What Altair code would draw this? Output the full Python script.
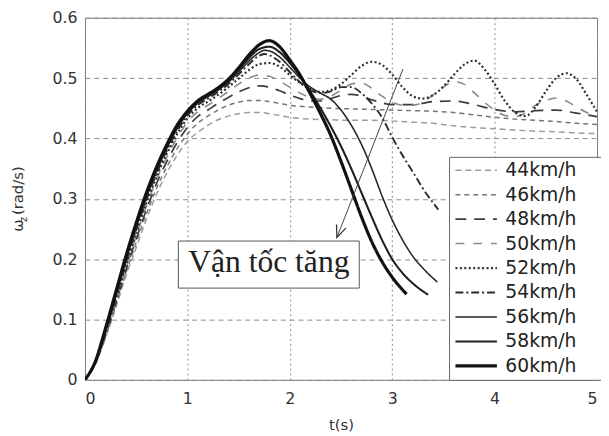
import altair as alt
import pandas as pd

# ---------------- data ----------------
series = ["44km/h", "46km/h", "48km/h", "50km/h", "52km/h",
          "54km/h", "56km/h", "58km/h", "60km/h"]

t_rise = [0.0, 0.1, 0.2, 0.3, 0.4, 0.5, 0.6, 0.7, 0.8, 0.9, 1.0]

rise_44 = [0, 0.025, 0.069, 0.119, 0.172, 0.219, 0.266, 0.308, 0.343, 0.372, 0.395]
rise_46 = [0, 0.026, 0.071, 0.123, 0.177, 0.227, 0.275, 0.318, 0.353, 0.383, 0.407]
rise_48 = [0, 0.027, 0.073, 0.127, 0.182, 0.233, 0.282, 0.326, 0.362, 0.393, 0.418]
rise_50 = [0, 0.027, 0.075, 0.130, 0.186, 0.238, 0.288, 0.332, 0.369, 0.401, 0.427]
rise_52 = [0, 0.028, 0.077, 0.133, 0.190, 0.243, 0.293, 0.337, 0.375, 0.407, 0.433]
rise_54 = [0, 0.029, 0.079, 0.136, 0.194, 0.248, 0.298, 0.342, 0.380, 0.412, 0.438]
rise_56 = [0, 0.029, 0.081, 0.139, 0.198, 0.252, 0.302, 0.346, 0.384, 0.416, 0.441]
rise_58 = [0, 0.030, 0.083, 0.142, 0.202, 0.256, 0.306, 0.350, 0.387, 0.419, 0.443]
rise_60 = [0, 0.030, 0.085, 0.145, 0.205, 0.260, 0.310, 0.353, 0.390, 0.422, 0.445]

t_tail_44 = [1.1, 1.2, 1.3, 1.4, 1.5, 1.6, 1.7, 1.8, 1.9, 2.0,
             2.2, 2.4, 2.6, 2.8, 3.0, 3.2, 3.4, 3.6, 3.8, 4.0, 4.2, 4.4, 4.6, 4.8, 5.0]
w_tail_44 = [0.410, 0.422, 0.431, 0.437, 0.441, 0.443, 0.443, 0.441, 0.438, 0.435,
             0.432, 0.431, 0.430, 0.430, 0.429, 0.427, 0.425, 0.421, 0.418, 0.416,
             0.414, 0.412, 0.411, 0.409, 0.408]

t_tail_46 = [1.1, 1.2, 1.3, 1.4, 1.5, 1.6, 1.7, 1.8, 1.9, 2.0,
             2.2, 2.4, 2.6, 2.8, 3.0, 3.2, 3.4, 3.6, 3.8, 4.0, 4.2, 4.4, 4.6, 4.8, 5.0]
w_tail_46 = [0.425, 0.437, 0.447, 0.455, 0.460, 0.463, 0.463, 0.461, 0.458, 0.455,
             0.452, 0.450, 0.449, 0.448, 0.447, 0.446, 0.445, 0.443, 0.439, 0.435,
             0.432, 0.430, 0.428, 0.425, 0.423]

t_tail_48 = [1.1, 1.2, 1.3, 1.4, 1.5, 1.6, 1.7, 1.8, 1.9, 2.0,
             2.1, 2.2, 2.3, 2.4, 2.5, 2.6, 2.7, 2.8, 2.9, 3.0,
             3.2, 3.4, 3.6, 3.8, 4.0, 4.2, 4.4, 4.6, 4.8, 5.0]
w_tail_48 = [0.436, 0.447, 0.458, 0.468, 0.477, 0.484, 0.487, 0.485, 0.479, 0.472,
             0.466, 0.462, 0.462, 0.466, 0.471, 0.473, 0.470, 0.464, 0.459, 0.456,
             0.456, 0.461, 0.462, 0.456, 0.448, 0.444, 0.446, 0.447, 0.442, 0.436]

t_tail_50 = [1.1, 1.2, 1.3, 1.4, 1.5, 1.6, 1.7, 1.8, 1.9, 2.0,
             2.1, 2.2, 2.3, 2.4, 2.5, 2.6, 2.7, 2.8, 2.9, 3.0,
             3.1, 3.2, 3.3, 3.4, 3.5, 3.6, 3.7, 3.8, 3.9, 4.0,
             4.1, 4.2, 4.3, 4.4, 4.5, 4.6, 4.7, 4.8, 4.9, 5.0]
w_tail_50 = [0.444, 0.455, 0.466, 0.478, 0.490, 0.500, 0.505, 0.503, 0.495, 0.485,
             0.475, 0.468, 0.465, 0.470, 0.480, 0.490, 0.492, 0.483, 0.470, 0.460,
             0.455, 0.455, 0.460, 0.472, 0.485, 0.494, 0.490, 0.476, 0.460, 0.447,
             0.438, 0.436, 0.442, 0.455, 0.463, 0.467, 0.462, 0.452, 0.443, 0.438]

t_tail_52 = [1.1, 1.2, 1.3, 1.4, 1.5, 1.6, 1.7, 1.8, 1.9, 2.0,
             2.1, 2.2, 2.3, 2.4, 2.5, 2.6, 2.7, 2.8, 2.9, 3.0,
             3.1, 3.2, 3.3, 3.4, 3.5, 3.6, 3.7, 3.8, 3.9, 4.0,
             4.1, 4.2, 4.3, 4.4, 4.5, 4.6, 4.7, 4.8, 4.9, 5.0]
w_tail_52 = [0.450, 0.461, 0.472, 0.485, 0.499, 0.513, 0.523, 0.525, 0.519, 0.505,
             0.492, 0.482, 0.477, 0.480, 0.490, 0.505, 0.520, 0.527, 0.522, 0.506,
             0.485, 0.470, 0.466, 0.472, 0.486, 0.505, 0.522, 0.529, 0.515, 0.490,
             0.462, 0.443, 0.437, 0.452, 0.478, 0.500, 0.508, 0.498, 0.472, 0.444]

t_tail_54 = [1.1, 1.2, 1.3, 1.4, 1.5, 1.6, 1.7, 1.75, 1.8, 1.9, 2.0,
             2.1, 2.2, 2.3, 2.4, 2.5, 2.6, 2.7, 2.8, 2.9, 3.0,
             3.1, 3.2, 3.3, 3.45]
w_tail_54 = [0.455, 0.466, 0.477, 0.490, 0.506, 0.523, 0.537, 0.540, 0.538, 0.527, 0.510,
             0.493, 0.480, 0.475, 0.478, 0.485, 0.485, 0.475, 0.458, 0.435, 0.402,
             0.372, 0.345, 0.317, 0.282]

t_tail_56 = [1.1, 1.2, 1.3, 1.4, 1.5, 1.6, 1.7, 1.75, 1.8, 1.9, 2.0,
             2.1, 2.2, 2.3, 2.4, 2.5, 2.6, 2.7, 2.8, 2.9, 3.0,
             3.1, 3.2, 3.3, 3.44]
w_tail_56 = [0.458, 0.469, 0.480, 0.493, 0.510, 0.528, 0.542, 0.546, 0.545, 0.535, 0.518,
             0.500, 0.485, 0.475, 0.465, 0.447, 0.422, 0.390, 0.350, 0.305, 0.265,
             0.232, 0.205, 0.185, 0.162]

t_tail_58 = [1.1, 1.2, 1.3, 1.4, 1.5, 1.6, 1.7, 1.8, 1.9, 2.0,
             2.1, 2.2, 2.3, 2.4, 2.5, 2.6, 2.7, 2.8, 2.9, 3.0,
             3.1, 3.2, 3.35]
w_tail_58 = [0.460, 0.471, 0.482, 0.496, 0.514, 0.533, 0.548, 0.552, 0.543, 0.525,
             0.503, 0.478, 0.450, 0.420, 0.387, 0.350, 0.310, 0.270, 0.232, 0.200,
             0.177, 0.160, 0.141]

t_tail_60 = [1.1, 1.2, 1.3, 1.4, 1.5, 1.6, 1.7, 1.8, 1.9, 2.0,
             2.1, 2.2, 2.3, 2.4, 2.5, 2.6, 2.7, 2.8, 2.9, 3.0, 3.14]
w_tail_60 = [0.462, 0.473, 0.484, 0.498, 0.517, 0.538, 0.555, 0.562, 0.552, 0.530,
             0.505, 0.474, 0.441, 0.405, 0.362, 0.316, 0.270, 0.229, 0.196, 0.170, 0.142]

x_ticks = [0, 1, 2, 3, 4, 5]
y_ticks = [0, 0.1, 0.2, 0.3, 0.4, 0.5, 0.6]

annotation_text = "Vận tốc tăng"

# ---------------- styles ----------------
colors = ["#9c9c9c", "#767676", "#3c3c3c", "#8a8a8a", "#2e2e2e",
          "#2a2a2a", "#262626", "#1e1e1e", "#111111"]
dashes = [[6, 4], [5, 4], [11, 8], [9, 9], [2, 2.5],
          [8, 3, 2, 3], [1, 0], [1, 0], [1, 0]]
widths = [1.5, 1.5, 1.7, 1.6, 2.2, 1.9, 1.6, 2.1, 3.2]

# ---------------- build table ----------------
rises = [rise_44, rise_46, rise_48, rise_50, rise_52, rise_54, rise_56, rise_58, rise_60]
tails_t = [t_tail_44, t_tail_46, t_tail_48, t_tail_50, t_tail_52, t_tail_54, t_tail_56, t_tail_58, t_tail_60]
tails_w = [w_tail_44, w_tail_46, w_tail_48, w_tail_50, w_tail_52, w_tail_54, w_tail_56, w_tail_58, w_tail_60]

rows = []
for name, r, tt, tw in zip(series, rises, tails_t, tails_w):
    assert len(tt) == len(tw), name
    for t, w in zip(t_rise + tt, r + tw):
        rows.append({"series": name, "t": t, "w": w})
df = pd.DataFrame(rows)

xs = alt.Scale(domain=[0, 5], nice=False, zero=False)
ys = alt.Scale(domain=[0, 0.6], nice=False)

# invisible title on the right only widens the legend frame
leg = alt.Legend(title=".", titleOrient="right", titlePadding=20, titleOpacity=0)

lines = alt.Chart(df).mark_line(interpolate="monotone", clip=True).encode(
    x=alt.X("t:Q", scale=xs,
            axis=alt.Axis(values=x_ticks, title="t(s)", format="d",
                          gridDash=[2, 3], labelPadding=11, titlePadding=11)),
    y=alt.Y("w:Q", scale=ys,
            axis=alt.Axis(values=y_ticks, title=None, gridDash=[5, 4], labelPadding=8,
                          labelExpr="datum.value == 0 ? '0' : format(datum.value, '.1f')")),
    color=alt.Color("series:N", scale=alt.Scale(domain=series, range=colors), legend=leg),
    strokeDash=alt.StrokeDash("series:N", scale=alt.Scale(domain=series, range=dashes), legend=leg),
    strokeWidth=alt.StrokeWidth("series:N", scale=alt.Scale(type="ordinal", domain=series, range=widths),
                                legend=leg),
)

box_df = pd.DataFrame({"x1": [0.912], "x2": [2.678], "y1": [0.152], "y2": [0.230],
                       "tx": [1.795], "ty": [0.178], "label": [annotation_text]})
box = alt.Chart(box_df).mark_rect(fill="white", stroke="#555", strokeWidth=1).encode(
    x="x1:Q", x2="x2:Q", y="y1:Q", y2="y2:Q")
box_text = alt.Chart(box_df).mark_text(font="Liberation Serif", fontSize=32, color="#222",
                                       align="center", baseline="alphabetic").encode(
    x="tx:Q", y="ty:Q", text="label:N")

arrow_df = pd.DataFrame({"x1": [3.105], "y1": [0.515], "x2": [2.46], "y2": [0.236]})
arrow_line = alt.Chart(arrow_df).mark_rule(color="#444", strokeWidth=1).encode(
    x="x1:Q", y="y1:Q", x2="x2:Q", y2="y2:Q")
arrow_head = alt.Chart(arrow_df).mark_point(
    shape="M-0.42,-1L0,0L0.42,-1", size=576, angle=21, filled=False,
    color="#333", strokeWidth=1.3, opacity=1).encode(x="x2:Q", y="y2:Q")

# y-axis title with subscript
ytitle_df = pd.DataFrame({"a": ["ω"], "b": ["z"], "c": ["(rad/s)"]})
yt1 = alt.Chart(ytitle_df).mark_text(font="DejaVu Sans", fontSize=15, angle=270, align="left",
                                      baseline="middle", color="#333").encode(
    x=alt.value(-68), y=alt.value(217), text="a:N")
yt2 = alt.Chart(ytitle_df).mark_text(font="DejaVu Sans", fontSize=10, angle=270, align="left",
                                      baseline="middle", color="#333").encode(
    x=alt.value(-62), y=alt.value(207), text="b:N")
yt3 = alt.Chart(ytitle_df).mark_text(font="DejaVu Sans", fontSize=15, angle=270, align="left",
                                      baseline="middle", color="#333").encode(
    x=alt.value(-68), y=alt.value(200), text="c:N")

chart = alt.layer(lines, box, box_text, arrow_line, arrow_head, yt1, yt2, yt3).properties(
    width=519, height=367,
    padding={"left": 78, "top": 7, "right": 4, "bottom": 50},
    autosize=alt.AutoSizeParams(type="none"),
).configure_view(
    stroke="#777", strokeWidth=1
).configure_axis(
    domain=False, ticks=False, labelFont="DejaVu Sans", labelFontSize=16, labelColor="#333",
    gridColor="#8a8a8a", gridWidth=1, titleFont="DejaVu Sans", titleFontSize=15,
    titleColor="#333", titleFontWeight="normal"
).configure_legend(
    orient="none", legendX=369, legendY=141,
    symbolType="M-1,0L5,0", symbolSize=196,
    labelFont="DejaVu Sans", labelFontSize=19, labelColor="#222",
    titleFontSize=10,
    strokeColor="#666", fillColor="white", padding=4, rowPadding=4.8, labelOffset=34
)

chart.save("out.html", embed_options={"renderer": "svg", "actions": False})
